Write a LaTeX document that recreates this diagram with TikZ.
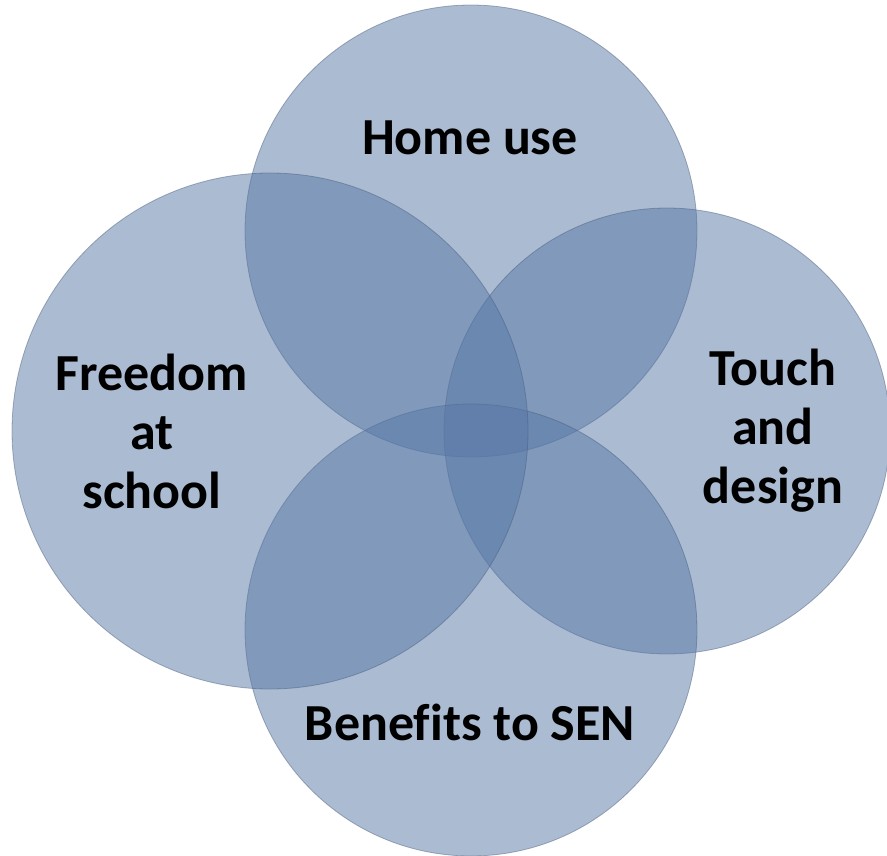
\documentclass[tikz,border=0pt]{standalone}
\usepackage{fontspec}
\setmainfont[Ligatures=NoCommon]{Carlito}
\usetikzlibrary{positioning}
\definecolor{vennblue}{RGB}{87,119,165}
\definecolor{vennedge}{RGB}{70,90,120}

\begin{document}
\begin{tikzpicture}[x=1pt,y=-1pt,
    venn/.style={circle,inner sep=0pt,fill=vennblue,fill opacity=0.5,
                 draw=vennedge,draw opacity=0.45,line width=0.8pt},
    vennlabel/.style={font=\fontsize{52}{59}\selectfont\bfseries,
                 align=center,text=black}]

      \useasboundingbox (0,0) rectangle (887,856);

      % The four overlapping circles
      \node[venn,minimum size=452pt] (home) at (471,231) {};
      \node[venn,minimum size=446pt] (touch) at (667,431) {};
      \node[venn,minimum size=452pt] (sen) at (471,630) {};
      \node[venn,minimum size=516pt] (freedom) at (270,431) {};

      % Labels
      \node[vennlabel] (homelbl) at (470,138) {Home use};
      \node[vennlabel] (touchlbl) at (773,431) {Touch\\and\\design};
      \node[vennlabel] (senlbl) at (470,722) {Benefits to SEN};
      \node[vennlabel] (freedomlbl) at (152,431) {Freedom\\at\\school};

\end{tikzpicture}
\end{document}
